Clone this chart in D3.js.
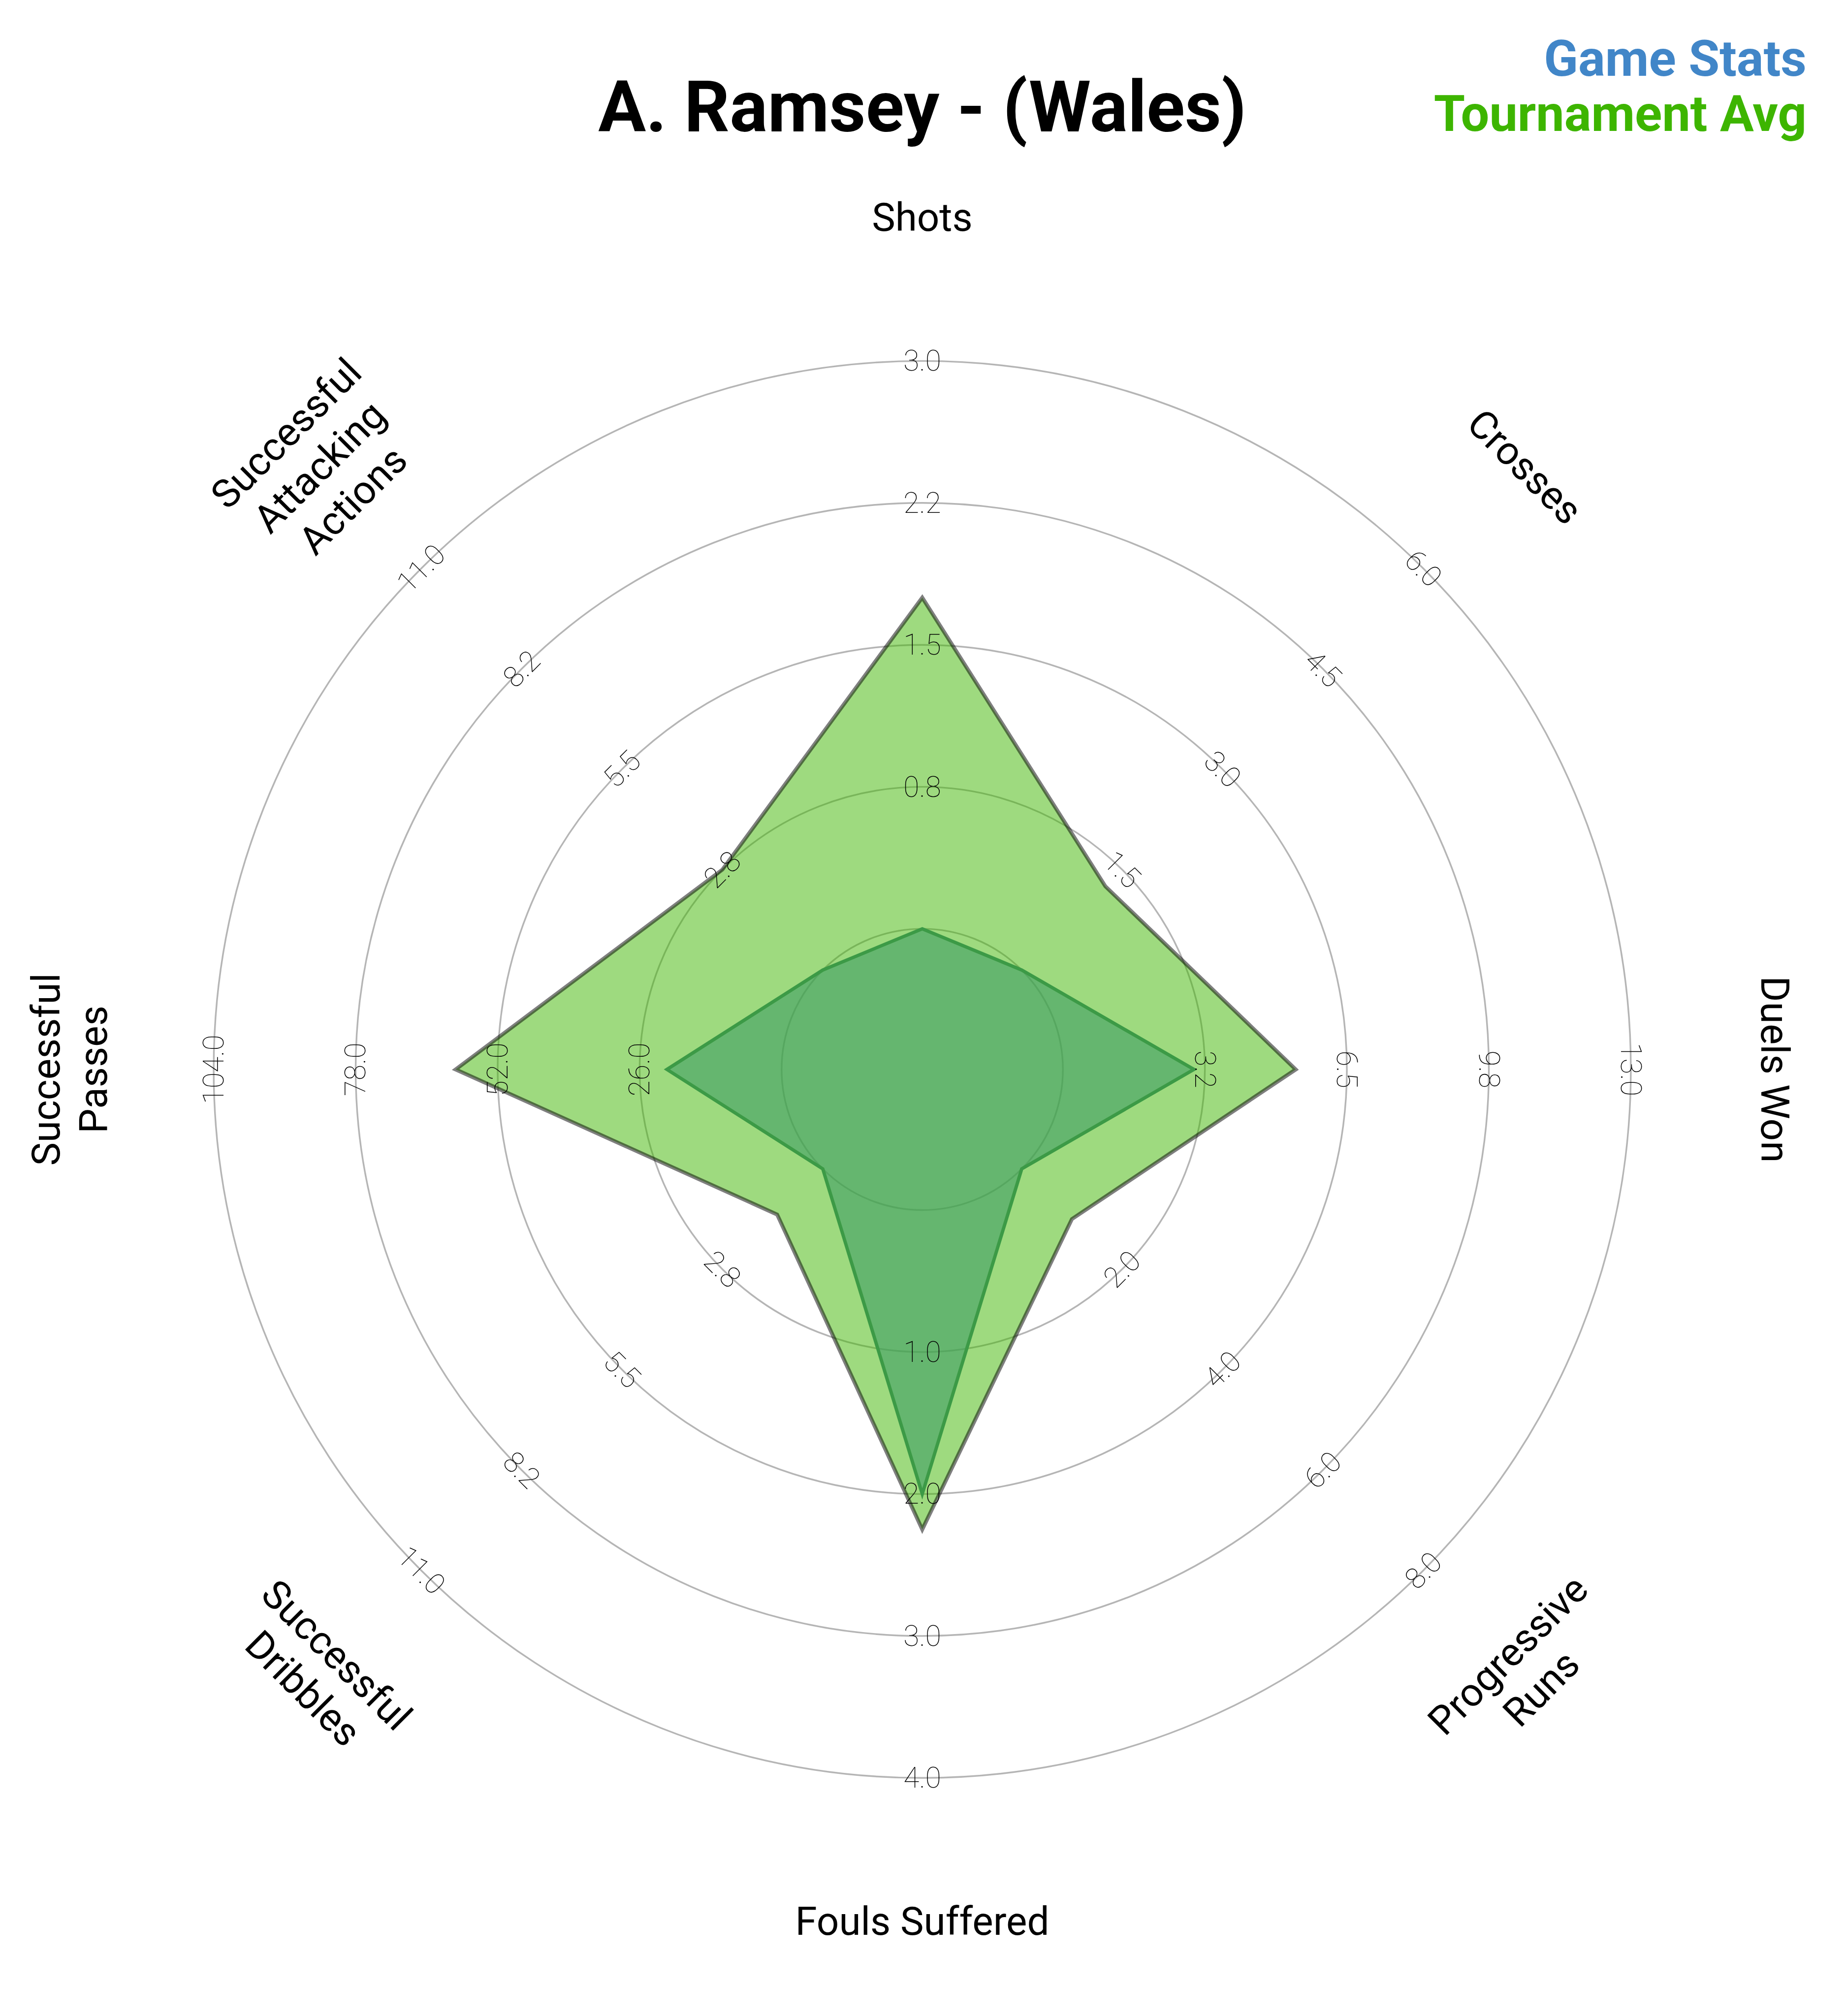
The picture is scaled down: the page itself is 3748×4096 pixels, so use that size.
<!DOCTYPE html>
<html><head><meta charset="utf-8">
<script src="https://cdn.jsdelivr.net/npm/d3@7"></script>
<style>html,body{margin:0;padding:0;background:#fff;} svg{display:block;}</style>
</head><body>
<script>
// ---- data ----
const params = ["Shots","Crosses","Duels Won","Progressive Runs","Fouls Suffered","Successful Dribbles","Successful Passes","Successful Attacking Actions"];
const paramLines = [["Shots"],["Crosses"],["Duels Won"],["Progressive","Runs"],["Fouls Suffered"],["Successful","Dribbles"],["Successful","Passes"],["Successful","Attacking","Actions"]];
const rangeMin = [0,0,0,0,0,0,0,0];
const rangeMax = [3,6,13,8,4,11,104,11];
const gameStats = [0,0,3,0,2,0,21,0];
const tournamentAvg = [1.75,1.25,5.33,1.0,2.25,1.25,59.7,2.75];
const tickLabels = [
  ["0.8","1.5","2.2","3.0"],
  ["1.5","3.0","4.5","6.0"],
  ["3.2","6.5","9.8","13.0"],
  ["2.0","4.0","6.0","8.0"],
  ["1.0","2.0","3.0","4.0"],
  ["2.8","5.5","8.2","11.0"],
  ["26.0","52.0","78.0","104.0"],
  ["2.8","5.5","8.2","11.0"]
];
const seriesNames = ["Game Stats","Tournament Avg"];
const seriesColors = ["#4186c8","#3db500"];
const titleText = "A. Ramsey - (Wales)";

// ---- layout (reference px; viewBox scales to 0.975) ----
const W = 3843, H = 4200;
const cx = 1921, cy = 2228, r0 = 293, R = 1476, labelR = 1775;
const n = params.length;

const svg = d3.select("body").append("svg")
  .attr("width", 3748).attr("height", 4096)
  .attr("viewBox", `0 0 ${W} ${H}`);
svg.append("rect").attr("width", W).attr("height", H).attr("fill", "#fff");

const g = svg.append("g").attr("transform", `translate(${cx},${cy})`);
const ringScale = d3.scaleLinear().domain([0, 4]).range([r0, R]);
const scales = rangeMax.map((m, i) => d3.scaleLinear().domain([rangeMin[i], m]).range([r0, R]));
const ang = i => i * 2 * Math.PI / n;
const deg = i => i * 360 / n;
const rot = t => (t > 90 && t < 270) ? t - 180 : t;
const pt = (r, i) => [r * Math.sin(ang(i)), -r * Math.cos(ang(i))];

// rings
g.selectAll("circle.ring").data(d3.range(0, 5)).join("circle")
  .attr("class", "ring").attr("r", k => ringScale(k))
  .attr("fill", "none").attr("stroke", "#b5b5b5").attr("stroke-width", 3.5);

const radial = d3.lineRadial()
  .angle((d, i) => ang(i))
  .radius((d, i) => scales[i](d))
  .curve(d3.curveLinearClosed);

// Game stats (drawn first)
g.append("path").attr("d", radial(gameStats))
  .attr("fill", seriesColors[0]).attr("fill-opacity", 0.6)
  .attr("stroke", "#3a7f8c").attr("stroke-opacity", 1)
  .attr("stroke-width", 7).attr("stroke-linejoin", "miter");
// Tournament avg on top
g.append("path").attr("d", radial(tournamentAvg))
  .attr("fill", seriesColors[1]).attr("fill-opacity", 0.5)
  .attr("stroke", "#000").attr("stroke-opacity", 0.5)
  .attr("stroke-width", 8).attr("stroke-linejoin", "miter");

// tick labels
tickLabels.forEach((labs, i) => {
  labs.forEach((t, k) => {
    const [x, y] = pt(ringScale(k + 1), i);
    g.append("text").text(t)
      .attr("transform", `translate(${x},${y}) rotate(${rot(deg(i))})`)
      .attr("text-anchor", "middle").attr("dominant-baseline", "central")
      .attr("font-family", "Roboto").attr("font-weight", 100)
      .attr("font-size", 60).attr("fill", "#000");
  });
});

// axis labels
const fs = 82, lh = fs * 1.2;
paramLines.forEach((lines, i) => {
  const [x, y] = pt(labelR, i);
  const t = g.append("text")
    .attr("transform", `translate(${x},${y}) rotate(${rot(deg(i))})`)
    .attr("text-anchor", "middle").attr("dominant-baseline", "central")
    .attr("font-family", "Roboto").attr("font-weight", 400)
    .attr("font-size", fs).attr("fill", "#000");
  lines.forEach((ln, j) => {
    t.append("tspan").attr("x", 0).attr("y", (j - (lines.length - 1) / 2) * lh)
      .attr("dominant-baseline", "central").text(ln);
  });
});

// title
svg.append("text").text(titleText)
  .attr("x", cx).attr("y", 274).attr("text-anchor", "middle")
  .attr("font-family", "Roboto").attr("font-weight", 700)
  .attr("font-size", 148).attr("fill", "#000");

// legend
const legY = [158, 273];
seriesNames.forEach((s, i) => {
  svg.append("text").text(s)
    .attr("x", 3763).attr("y", legY[i]).attr("text-anchor", "end")
    .attr("font-family", "Roboto").attr("font-weight", 700)
    .attr("font-size", 105).attr("fill", seriesColors[i]);
});
</script>
</body></html>
